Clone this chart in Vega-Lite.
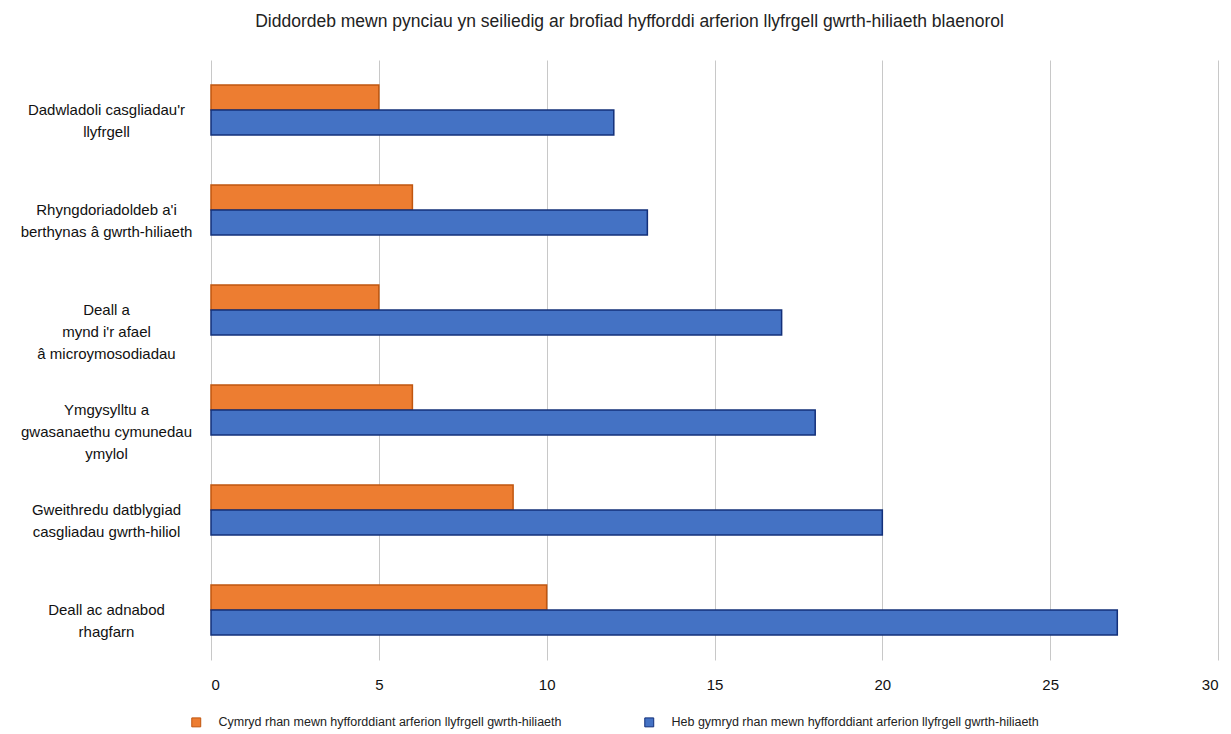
{
  "$schema": "https://vega.github.io/schema/vega-lite/v6.json",
  "autosize": {"type": "none"},
  "width": 1007,
  "height": 600,
  "padding": {"left": 211, "top": 60, "right": 13, "bottom": 74},
  "background": "white",
  "title": {
    "text": "Diddordeb mewn pynciau yn seiliedig ar brofiad hyfforddi arferion llyfrgell gwrth-hiliaeth blaenorol",
    "font": "Liberation Sans",
    "fontSize": 17.5,
    "fontWeight": "normal",
    "color": "#222222",
    "anchor": "middle",
    "dx": -85,
    "offset": 30
  },
  "data": {
    "values": [
      {"topic": "Dadwladoli casgliadau'r|llyfrgell", "group": "Cymryd rhan mewn hyfforddiant arferion llyfrgell gwrth-hiliaeth", "count": 5},
      {"topic": "Dadwladoli casgliadau'r|llyfrgell", "group": "Heb gymryd rhan mewn hyfforddiant arferion llyfrgell gwrth-hiliaeth", "count": 12},
      {"topic": "Rhyngdoriadoldeb a'i|berthynas â gwrth-hiliaeth", "group": "Cymryd rhan mewn hyfforddiant arferion llyfrgell gwrth-hiliaeth", "count": 6},
      {"topic": "Rhyngdoriadoldeb a'i|berthynas â gwrth-hiliaeth", "group": "Heb gymryd rhan mewn hyfforddiant arferion llyfrgell gwrth-hiliaeth", "count": 13},
      {"topic": "Deall a|mynd i'r afael|â microymosodiadau", "group": "Cymryd rhan mewn hyfforddiant arferion llyfrgell gwrth-hiliaeth", "count": 5},
      {"topic": "Deall a|mynd i'r afael|â microymosodiadau", "group": "Heb gymryd rhan mewn hyfforddiant arferion llyfrgell gwrth-hiliaeth", "count": 17},
      {"topic": "Ymgysylltu a|gwasanaethu cymunedau|ymylol", "group": "Cymryd rhan mewn hyfforddiant arferion llyfrgell gwrth-hiliaeth", "count": 6},
      {"topic": "Ymgysylltu a|gwasanaethu cymunedau|ymylol", "group": "Heb gymryd rhan mewn hyfforddiant arferion llyfrgell gwrth-hiliaeth", "count": 18},
      {"topic": "Gweithredu datblygiad|casgliadau gwrth-hiliol", "group": "Cymryd rhan mewn hyfforddiant arferion llyfrgell gwrth-hiliaeth", "count": 9},
      {"topic": "Gweithredu datblygiad|casgliadau gwrth-hiliol", "group": "Heb gymryd rhan mewn hyfforddiant arferion llyfrgell gwrth-hiliaeth", "count": 20},
      {"topic": "Deall ac adnabod|rhagfarn", "group": "Cymryd rhan mewn hyfforddiant arferion llyfrgell gwrth-hiliaeth", "count": 10},
      {"topic": "Deall ac adnabod|rhagfarn", "group": "Heb gymryd rhan mewn hyfforddiant arferion llyfrgell gwrth-hiliaeth", "count": 27}
    ]
  },
  "mark": {"type": "bar", "strokeWidth": 1.5},
  "encoding": {
    "y": {
      "field": "topic",
      "type": "nominal",
      "sort": null,
      "scale": {"paddingInner": 0.5, "paddingOuter": 0.25},
      "axis": {
        "title": null,
        "domain": false,
        "ticks": false,
        "labelExpr": "split(datum.label, '|')",
        "labelAlign": "center",
        "labelPadding": 105,
        "labelFont": "Liberation Sans",
        "labelFontSize": 15,
        "labelLineHeight": 22,
        "labelColor": "#111111",
        "labelLimit": 250
      }
    },
    "yOffset": {"field": "group", "type": "nominal", "sort": null},
    "x": {
      "field": "count",
      "type": "quantitative",
      "scale": {"domain": [0, 30]},
      "axis": {
        "title": null,
        "values": [0, 5, 10, 15, 20, 25, 30],
        "domain": false,
        "ticks": false,
        "grid": true,
        "gridColor": "#c8c8c8",
        "gridWidth": 1,
        "labelFont": "Liberation Sans",
        "labelFontSize": 15,
        "labelColor": "#111111",
        "labelPadding": 17
      }
    },
    "color": {
      "field": "group",
      "type": "nominal",
      "sort": null,
      "scale": {
        "domain": ["Cymryd rhan mewn hyfforddiant arferion llyfrgell gwrth-hiliaeth", "Heb gymryd rhan mewn hyfforddiant arferion llyfrgell gwrth-hiliaeth"],
        "range": ["#ED7D31", "#4472C4"]
      },
      "legend": {
        "title": null,
        "orient": "none",
        "direction": "horizontal",
        "legendX": -21,
        "legendY": 656,
        "symbolType": "square",
        "symbolSize": 80,
        "symbolStrokeWidth": 1,
        "labelFont": "Liberation Sans",
        "labelFontSize": 12.5,
        "labelColor": "#222222",
        "labelOffset": 16,
        "columnPadding": 80,
        "labelLimit": 500
      }
    },
    "stroke": {
      "field": "group",
      "type": "nominal",
      "sort": null,
      "scale": {
        "domain": ["Cymryd rhan mewn hyfforddiant arferion llyfrgell gwrth-hiliaeth", "Heb gymryd rhan mewn hyfforddiant arferion llyfrgell gwrth-hiliaeth"],
        "range": ["#C0560F", "#13307A"]
      },
      "legend": null
    }
  },
  "config": {"view": {"stroke": null}}
}
